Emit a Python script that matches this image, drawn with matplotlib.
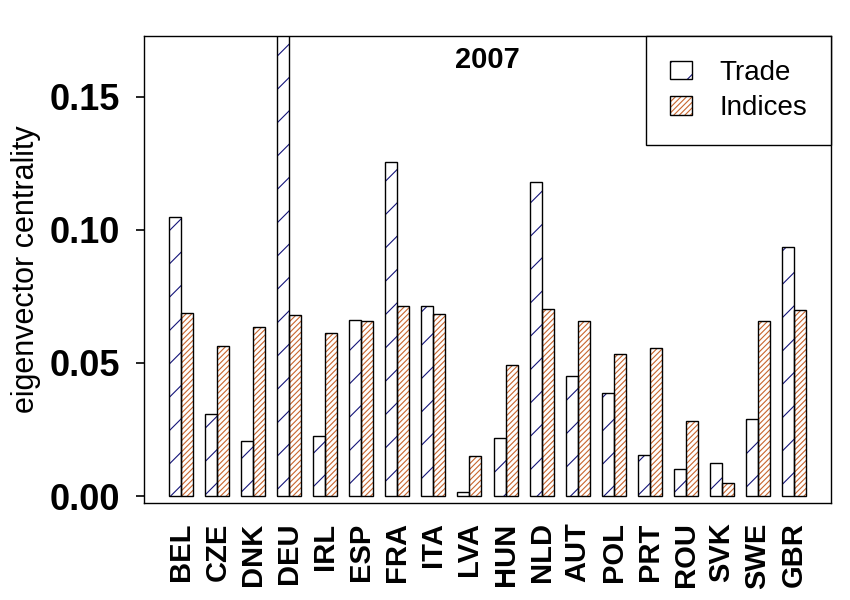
import matplotlib
matplotlib.use("Agg")
import matplotlib.pyplot as plt
from matplotlib.patches import Patch
from matplotlib.legend_handler import HandlerTuple
import numpy as np

countries = ["BEL", "CZE", "DNK", "DEU", "IRL", "ESP", "FRA", "ITA", "LVA",
             "HUN", "NLD", "AUT", "POL", "PRT", "ROU", "SVK", "SWE", "GBR"]
trade = [0.105, 0.031, 0.0206, 0.19, 0.0224, 0.066, 0.1254, 0.0713, 0.0014,
         0.0217, 0.1179, 0.045, 0.0386, 0.0153, 0.010, 0.0123, 0.0288, 0.0935]
indices = [0.0687, 0.0564, 0.0635, 0.0679, 0.0611, 0.0657, 0.0713, 0.0683, 0.0149,
           0.0491, 0.0702, 0.0657, 0.0534, 0.0555, 0.0281, 0.0048, 0.0657, 0.0698]
yticks = [0.00, 0.05, 0.10, 0.15]
ytick_labels = ["0.00", "0.05", "0.10", "0.15"]
title_text = "2007"
ylabel_text = "eigenvector centrality"
series_names = ["Trade", "Indices"]

plt.rcParams['font.family'] = ['Liberation Sans', 'DejaVu Sans']
plt.rcParams['hatch.linewidth'] = 0.8

TRADE_HATCH = '#14147a'
IND_HATCH = '#c8652d'

fig = plt.figure(figsize=(8.5, 6), dpi=100)
ax = fig.add_axes([144/850, 1-503/600, (831-144)/850, (503-36)/600])

n = len(countries)
idx = np.arange(n)
x_trade = 1 + 3*idx
x_ind = 2 + 3*idx

# hatch layers
ax.bar(x_trade, trade, width=1, align='edge', facecolor='white',
       edgecolor=TRADE_HATCH, hatch='/', linewidth=0)
ax.bar(x_ind, indices, width=1, align='edge', facecolor='white',
       edgecolor=IND_HATCH, hatch='//////', linewidth=0)
# borders
ax.bar(x_trade, trade, width=1, align='edge', fill=False,
       edgecolor='black', linewidth=1.0)
ax.bar(x_ind, indices, width=1, align='edge', fill=False,
       edgecolor='black', linewidth=1.0)

ax.set_xlim(-1.12, 56.12)
ax.set_ylim(-0.00263, 0.1729)

ax.set_yticks(yticks)
ax.set_yticklabels(ytick_labels, fontsize=26, fontweight='bold')
ax.tick_params(axis='y', direction='out', length=6, width=1.2, pad=11)

ax.set_xticks(x_ind)
ax.set_xticklabels(countries, rotation=90, fontsize=21, fontweight='bold')
ax.tick_params(axis='x', length=0, pad=14)

for s in ax.spines.values():
    s.set_linewidth(1.0)

ax.set_ylabel(ylabel_text, fontsize=22)
ax.yaxis.set_label_coords(-0.150, 0.5)

ax.text(0.5, 0.949, title_text, transform=ax.transAxes, ha='center',
        va='center', fontsize=21, fontweight='bold')

h_trade = (Patch(facecolor='white', edgecolor=TRADE_HATCH, hatch='/', linewidth=0),
           Patch(fill=False, edgecolor='black', linewidth=1.0))
h_ind = (Patch(facecolor='white', edgecolor=IND_HATCH, hatch='//////', linewidth=0),
         Patch(fill=False, edgecolor='black', linewidth=1.0))
leg = ax.legend([h_trade, h_ind], series_names, loc='upper right',
                handler_map={tuple: HandlerTuple(ndivide=1)},
                fontsize=20, frameon=True, fancybox=False, framealpha=1,
                edgecolor='black', borderaxespad=0, borderpad=0.85,
                handlelength=0.8, handleheight=0.65, handletextpad=1.0,
                labelspacing=0.35)
leg.get_frame().set_linewidth(1.0)

fig.savefig("out.png", dpi=100)
